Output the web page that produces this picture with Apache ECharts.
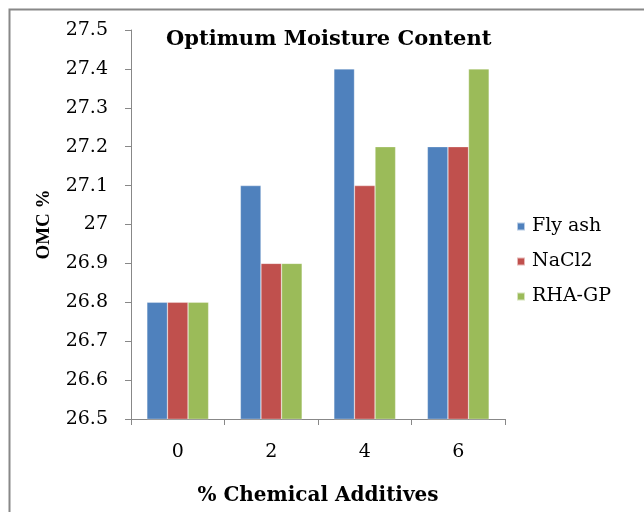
<!DOCTYPE html>
<html>
<head>
<meta charset="utf-8">
<script src="https://cdn.jsdelivr.net/npm/echarts@6/dist/echarts.min.js"></script>
<style>
  html, body { margin: 0; padding: 0; background: #fff; }
  #chart { width: 644px; height: 512px; }
</style>
</head>
<body>
<div id="chart"></div>
<script>
// Additive dosage (%) on the category axis
const categories = ['0', '2', '4', '6'];
// Optimum moisture content (%) for each additive
const flyAsh = [26.8, 27.1, 27.4, 27.2];
const naCl2 = [26.8, 26.9, 27.1, 27.2];
const rhaGp = [26.8, 26.9, 27.2, 27.4];
const seriesNames = ['Fly ash', 'NaCl2', 'RHA-GP'];
const colors = ['#4F81BD', '#C0504D', '#9BBB59'];

const serif = '"DejaVu Serif", "Liberation Serif", serif';
const chart = echarts.init(document.getElementById('chart'));

function barSeries(name, data, color) {
  return {
    name: name,
    type: 'bar',
    data: data,
    barGap: '0%',
    barCategoryGap: '34%',
    itemStyle: { color: color, borderColor: 'rgba(255,255,255,0.6)', borderWidth: 0.5 },
    emphasis: { disabled: true }
  };
}

chart.setOption({
  animation: false,
  title: {
    text: 'Optimum Moisture Content',
    left: 161,
    top: 24,
    textStyle: { fontFamily: serif, fontSize: 21, fontWeight: 'bold', color: '#000' }
  },
  legend: {
    orient: 'vertical',
    left: 511,
    top: 212,
    itemWidth: 8,
    itemHeight: 8,
    itemGap: 16,
    icon: 'rect',
    data: seriesNames,
    textStyle: { fontFamily: serif, fontSize: 19, color: '#000', padding: [0, 0, 0, 2] }
  },
  grid: { left: 131, top: 30, right: 139, bottom: 93, containLabel: false },
  xAxis: {
    type: 'category',
    data: categories,
    name: '% Chemical Additives',
    nameLocation: 'middle',
    nameGap: 67,
    nameTextStyle: { fontFamily: serif, fontSize: 20, fontWeight: 'bold', color: '#000' },
    axisLine: { lineStyle: { color: '#888', width: 1 } },
    axisTick: { show: true, alignWithLabel: false, length: 6, lineStyle: { color: '#888' } },
    axisLabel: { fontFamily: serif, fontSize: 19, color: '#000', margin: 24 }
  },
  yAxis: {
    type: 'value',
    min: 26.5,
    max: 27.5,
    interval: 0.1,
    name: 'OMC %',
    nameLocation: 'middle',
    nameGap: 77,
    nameRotate: 90,
    nameTextStyle: { fontFamily: '"Liberation Serif", serif', fontSize: 19, fontWeight: 'bold', color: '#000' },
    axisLine: { show: true, lineStyle: { color: '#888', width: 1 } },
    axisTick: { show: true, length: 6, lineStyle: { color: '#888' } },
    splitLine: { show: false },
    axisLabel: {
      fontFamily: serif, fontSize: 19, color: '#000', margin: 23,
      formatter: function (v) { return String(Math.round(v * 10) / 10); }
    }
  },
  graphic: [{
    type: 'rect',
    left: 7, top: 7,
    shape: { width: 700, height: 600 },
    style: { fill: 'none', stroke: '#888', lineWidth: 2 },
    silent: true
  }],
  series: [
    barSeries(seriesNames[0], flyAsh, colors[0]),
    barSeries(seriesNames[1], naCl2, colors[1]),
    barSeries(seriesNames[2], rhaGp, colors[2])
  ]
});
</script>
</body>
</html>
